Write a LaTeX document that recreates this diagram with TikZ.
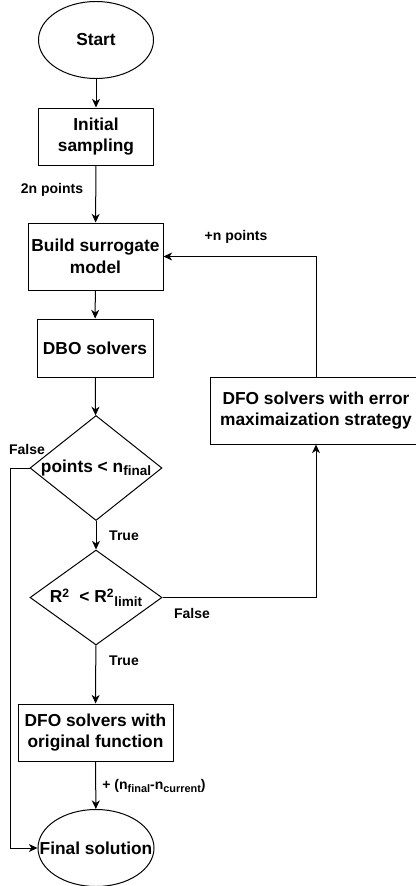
\documentclass[tikz,border=0pt]{standalone}
\usepackage{fontspec}
\setmainfont{Liberation Sans}
\usetikzlibrary{shapes.geometric,arrows.meta}

\newcommand\boxfont{\bfseries\fontsize{13}{16.2}\selectfont}
\newcommand\lblfont{\bfseries\fontsize{10.5}{12}\selectfont}
\newcommand\lowtext[1]{\raisebox{-0.35ex}{\fontsize{0.78em}{1em}\selectfont #1}}

\begin{document}
\begin{tikzpicture}[x=0.75pt,y=-0.75pt,
    box/.style={draw, rectangle, align=center, inner sep=0pt, line width=0.75pt, font=\boxfont},
    term/.style={draw, ellipse, inner sep=0pt, line width=0.75pt, label={[font=\boxfont]center:#1}},
    decision/.style={draw, diamond, inner sep=0pt, line width=0.75pt, label={[font=\boxfont]center:#1}},
    lbl/.style={inner sep=0pt, font=\lblfont},
    flow/.style={-{Stealth[length=6.5pt,width=6pt,inset=2pt]}, line width=0.75pt}]
            \useasboundingbox (0,0) rectangle (416,886);

            % shapes
            \node[term={Start}, minimum width=86.25pt, minimum height=57.75pt] (start) at (96,40) {};
            \node[box, minimum width=86.25pt, minimum height=42.75pt] (init) at (96,136.5) {Initial\\sampling};
            \node[box, minimum width=101.25pt, minimum height=50.25pt] (build) at (95.5,256.5) {Build surrogate\\model};
            \node[box, minimum width=87pt, minimum height=43.5pt] (dbo) at (95,348) {DBO solvers};
            \node[decision={points < n\lowtext{final}}, minimum width=99pt, minimum height=78.75pt] (d1) at (96,468) {};
            \node[decision={R\textsuperscript{2}\ \ < R\textsuperscript{2}\lowtext{limit}}, minimum width=99pt, minimum height=71.25pt] (d2) at (96,597.5) {};
            \node[box, minimum width=159pt, minimum height=50.25pt] (dfoe) at (316,410.5) {DFO solvers with error\\maximaization strategy};
            \node[box, minimum width=116.25pt, minimum height=42.75pt] (dfoo) at (95.5,732.5) {DFO solvers with\\original function};
            \node[term={Final solution}, minimum width=87pt, minimum height=57.75pt] (final) at (96,848) {};

            \coordinate (bend) at (10,468);

            % connectors
            \draw[flow] (start) -- (init);
            \draw[flow] (init) -- (build);
            \draw[flow] (build) -- (dbo);
            \draw[flow] (dbo) -- (d1);
            \draw[flow] (d1) -- (d2);
            \draw[flow] (d2) -- (dfoo);
            \draw[flow] (dfoo) -- (final);
            \draw[flow] (d1.west) -- (bend) |- (final.west);
            \draw[flow] (d2.east) -| (dfoe.south);
            \draw[flow] (dfoe.north) |- (build.east);

            % labels
            \node[lbl] (l2n) at (52,190) {2n points};
            \node[lbl] (lplus) at (236,237) {+n points};
            \node[lbl] (lfalse1) at (27,449) {False};
            \node[lbl] (ltrue1) at (124,536) {True};
            \node[lbl] (lfalse2) at (192,613) {False};
            \node[lbl] (ltrue2) at (124,661) {True};
            \node[lbl] (lrest) at (154,786) {+ (n\lowtext{final}-n\lowtext{current})};
        \end{tikzpicture}
\end{document}
